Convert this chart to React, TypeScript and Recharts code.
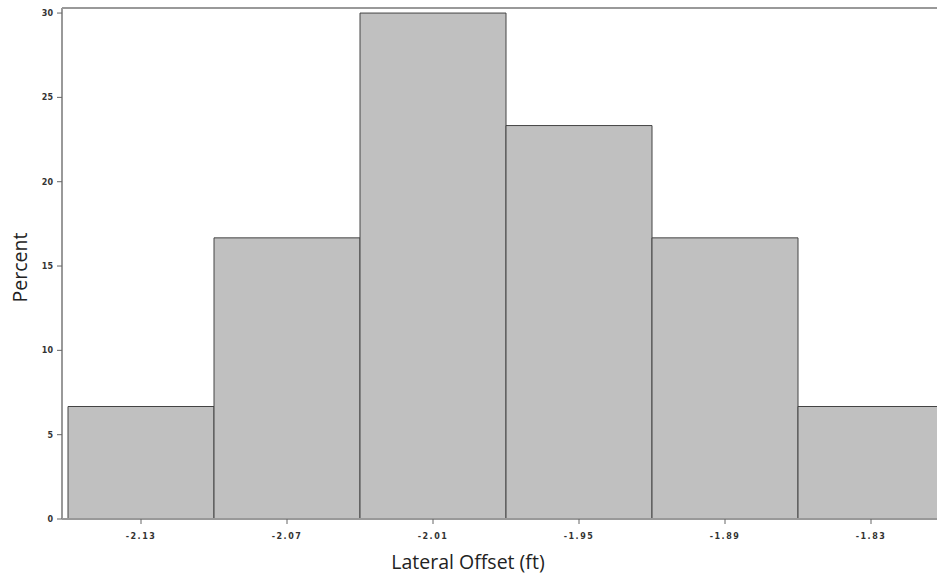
import React from "react";
import {
  BarChart,
  Bar,
  XAxis,
  YAxis,
  ReferenceLine,
  Label,
} from "recharts";

// bin midpoints and percent of observations in each bin
const bins = ["-2.13", "-2.07", "-2.01", "-1.95", "-1.89", "-1.83"];
const percents = [6.67, 16.67, 30, 23.33, 16.67, 6.67];
const yTicks = [0, 5, 10, 15, 20, 25, 30];

const data = bins.map((bin, i) => ({ bin, pct: percents[i] }));

const tickStyle = {
  fontFamily: "DejaVu Sans",
  fontSize: 8,
  fontWeight: "bold" as const,
  fill: "#333",
};

function App() {
  return (
    <div
      style={{
        position: "fixed",
        left: 0,
        top: 0,
        width: 937,
        height: 575,
        overflow: "hidden",
        background: "#fff",
      }}
    >
      <BarChart
        width={960}
        height={575}
        data={data}
        barCategoryGap={0}
        margin={{ top: 8, right: 16, bottom: 0, left: 0 }}
      >
        <XAxis
          dataKey="bin"
          height={56}
          padding={{ left: 6, right: 0 }}
          stroke="#999"
          strokeWidth={2}
          tickSize={5}
          tickMargin={9}
          tick={{ ...tickStyle, letterSpacing: 1.5 }}
          tickLine={{ stroke: "#666", strokeWidth: 1 }}
        >
          <Label
            value="Lateral Offset (ft)"
            position="insideBottom"
            offset={6}
            dx={-35}
            style={{ fontFamily: "Open Sans", fontSize: 19.5, fill: "#222" }}
          />
        </XAxis>
        <YAxis
          width={62}
          domain={[0, 30.3]}
          ticks={yTicks}
          stroke="#999"
          strokeWidth={2}
          tickSize={5}
          tickMargin={4}
          tick={tickStyle}
          tickLine={{ stroke: "#666", strokeWidth: 1 }}
          allowDataOverflow
        >
          <Label
            value="Percent"
            angle={-90}
            position="insideLeft"
            offset={20}
            dy={4}
            style={{
              fontFamily: "Open Sans",
              fontSize: 19.5,
              fill: "#222",
              textAnchor: "middle",
            }}
          />
        </YAxis>
        <ReferenceLine y={30.3} stroke="#999" strokeWidth={2} />
        <Bar
          dataKey="pct"
          fill="#c0c0c0"
          stroke="#444"
          strokeWidth={1}
          isAnimationActive={false}
        />
      </BarChart>
    </div>
  );
}

export default App;
